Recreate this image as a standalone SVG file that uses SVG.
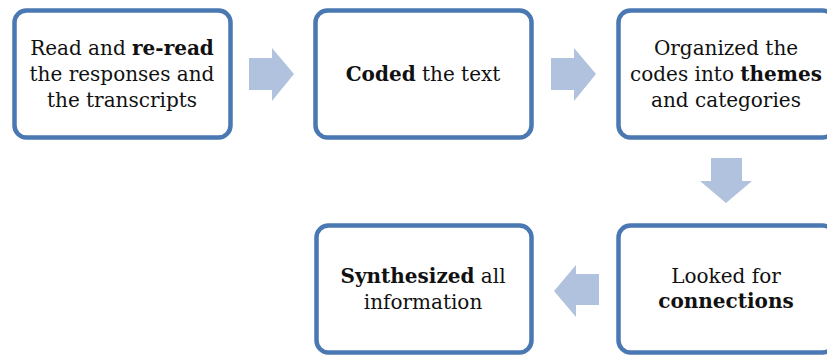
<svg xmlns="http://www.w3.org/2000/svg" width="827" height="356" viewBox="0 0 827 356">
  <style>
    .box { fill: #ffffff; stroke: #4a78b2; stroke-width: 4.5; }
    .arrow { fill: #b1c2de; }
    .label { font-family: "DejaVu Serif", serif; font-size: 20px; fill: #111111; text-anchor: middle; }
    .b { font-weight: bold; }
  </style>
  <rect width="827" height="356" fill="#ffffff"/>

  <g id="connectors">
    <polygon class="arrow" points="249,58 272,58 272,48 294,74 272,101 272,90 249,90"/>
    <polygon class="arrow" points="551,58 574,58 574,48 596,74 574,101 574,90 551,90"/>
    <polygon class="arrow" points="711,158 742,158 742,181 752,181 726,203 700,181 711,181"/>
    <polygon class="arrow" points="599,274 576,274 576,265 554,291 576,317 576,305 599,305"/>
  </g>

  <g id="node-read">
    <rect class="box" x="14.5" y="10.5" width="216" height="127" rx="12"/>
    <text class="label" x="122" y="55">Read and <tspan class="b">re-read</tspan></text>
    <text class="label" x="122" y="81">the responses and</text>
    <text class="label" x="122" y="107">the transcripts</text>
  </g>

  <g id="node-coded">
    <rect class="box" x="315.5" y="10.5" width="216" height="127" rx="12"/>
    <text class="label" x="423" y="81"><tspan class="b">Coded</tspan> the text</text>
  </g>

  <g id="node-organized">
    <rect class="box" x="618.5" y="10.5" width="216" height="127" rx="12"/>
    <text class="label" x="726" y="55">Organized the</text>
    <text class="label" x="726" y="81">codes into <tspan class="b">themes</tspan></text>
    <text class="label" x="726" y="107">and categories</text>
  </g>

  <g id="node-connections">
    <rect class="box" x="618.5" y="225.5" width="216" height="127" rx="12"/>
    <text class="label" x="726" y="283">Looked for</text>
    <text class="label b" x="726" y="308">connections</text>
  </g>

  <g id="node-synthesized">
    <rect class="box" x="316.5" y="225.5" width="215" height="127" rx="12"/>
    <text class="label" x="423" y="283"><tspan class="b">Synthesized</tspan> all</text>
    <text class="label" x="423" y="309">information</text>
  </g>
</svg>
